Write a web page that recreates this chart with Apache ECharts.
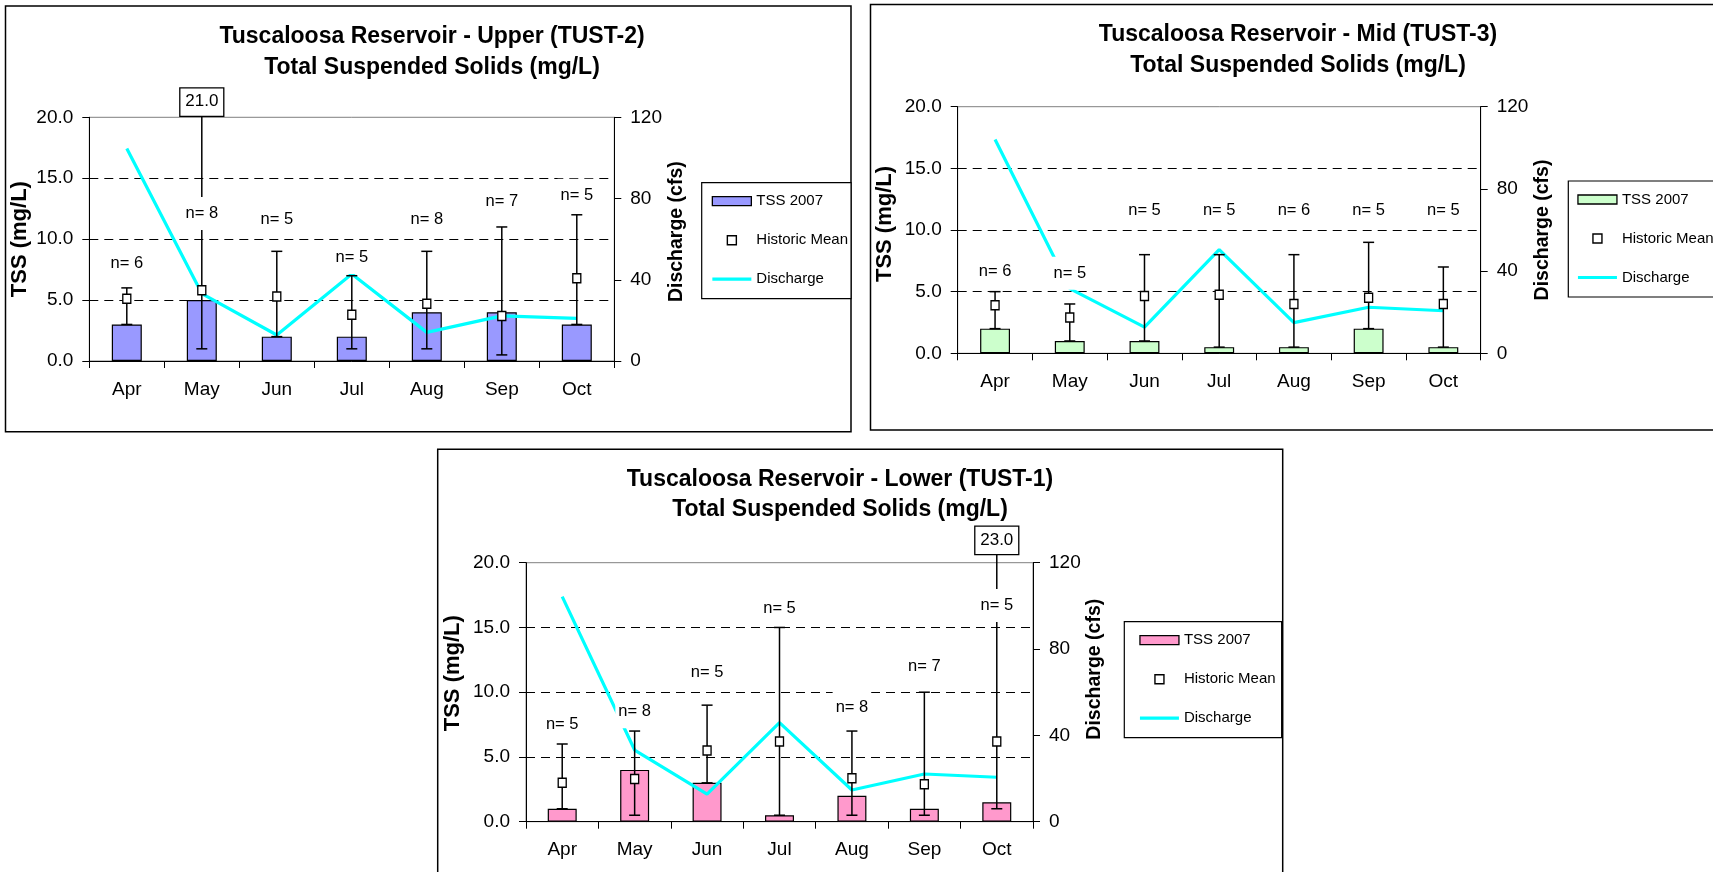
<!DOCTYPE html>
<html>
<head>
<meta charset="utf-8">
<script src="https://cdn.jsdelivr.net/npm/echarts@6/dist/echarts.min.js"></script>
<style>
html,body{margin:0;padding:0;background:#fff;}
#chart{width:1713px;height:872px;}
</style>
</head>
<body>
<div id="chart"></div>
<script>
// ---------- DATA ----------
const categories = ['Apr', 'May', 'Jun', 'Jul', 'Aug', 'Sep', 'Oct'];

const tssTickValues = [0, 5, 10, 15, 20];
const tssTickLabels = ['0.0', '5.0', '10.0', '15.0', '20.0'];
const dischargeTickValues = [0, 40, 80, 120];
const dischargeTickLabels = ['0', '40', '80', '120'];

// Upper (TUST-2)
const upperTitle = ['Tuscaloosa Reservoir - Upper (TUST-2)', 'Total Suspended Solids (mg/L)'];
const upperTss2007 = [3.0, 5.0, 2.0, 2.0, 4.0, 4.0, 3.0];
const upperHistMean = [5.1, 5.8, 5.3, 3.8, 4.7, 3.7, 6.8];
const upperHistMin = [3.0, 1.0, 2.0, 1.0, 1.0, 0.5, 3.0];
const upperHistMax = [6.0, 21.0, 9.0, 7.0, 9.0, 11.0, 12.0];
const upperN = [6, 8, 5, 5, 8, 7, 5];
const upperNLabelAt = [8.0, 12.1, 11.6, 8.5, 11.6, 13.1, 13.6];
const upperDischarge = [104.6, 33.2, 12.8, 42.8, 14.1, 22.2, 21.0];

// Mid (TUST-3)
const midTitle = ['Tuscaloosa Reservoir - Mid (TUST-3)', 'Total Suspended Solids (mg/L)'];
const midTss2007 = [2.0, 1.0, 1.0, 0.5, 0.5, 2.0, 0.5];
const midHistMean = [3.9, 2.9, 4.65, 4.75, 4.0, 4.5, 4.0];
const midHistMin = [2.0, 1.0, 1.0, 0.5, 0.5, 2.0, 0.5];
const midHistMax = [5.0, 4.0, 8.0, 8.0, 8.0, 9.0, 7.0];
const midN = [6, 5, 5, 5, 6, 5, 5];
const midNLabelAt = [6.6, 6.5, 11.6, 11.6, 11.6, 11.6, 11.6];
const midDischarge = [104.0, 31.5, 12.7, 50.5, 14.9, 22.4, 20.7];

// Lower (TUST-1)
const lowerTitle = ['Tuscaloosa Reservoir - Lower (TUST-1)', 'Total Suspended Solids (mg/L)'];
const lowerTss2007 = [1.0, 4.0, 3.0, 0.5, 2.0, 1.0, 1.5];
const lowerHistMean = [3.0, 3.3, 5.5, 6.2, 3.35, 2.9, 6.2];
const lowerHistMin = [1.0, 0.5, 3.0, 0.5, 0.5, 0.5, 1.0];
const lowerHistMax = [6.0, 7.0, 9.0, 15.0, 7.0, 10.0, 23.0];
const lowerN = [5, 8, 5, 5, 8, 7, 5];
const lowerNLabelAt = [7.5, 8.5, 11.5, 16.5, 8.8, 12.0, 16.7];
const lowerDischarge = [104.3, 33.2, 12.8, 45.9, 14.7, 22.1, 20.6];

// ---------- ASSEMBLY ----------
const panels = [
  {title: upperTitle, tss: upperTss2007, mean: upperHistMean, lo: upperHistMin, hi: upperHistMax, n: upperN, nAt: upperNLabelAt, q: upperDischarge, color: '#9999FF'},
  {title: midTitle, tss: midTss2007, mean: midHistMean, lo: midHistMin, hi: midHistMax, n: midN, nAt: midNLabelAt, q: midDischarge, color: '#CCFFCC'},
  {title: lowerTitle, tss: lowerTss2007, mean: lowerHistMean, lo: lowerHistMin, hi: lowerHistMax, n: lowerN, nAt: lowerNLabelAt, q: lowerDischarge, color: '#FF99CC'}
];

const layout = [
  {grid: {left: 89.3, top: 117.3, width: 525, height: 243.7}, frame: [5.5, 6, 845.5, 425.7], titleX: 432, titleY: [36.7, 67.7],
   legend: {left: 701.7, top: 182.7, padding: [11, 3, 12, 10]}, leftGap: 58, rightGap: 52, leftShift: 0, rightShift: 15, boxGap: 1},
  {grid: {left: 957.7, top: 106.7, width: 523, height: 246.6}, frame: [870.5, 4.5, 900, 425.5], titleX: 1298, titleY: [35, 65.7],
   legend: {left: 1568.3, top: 181, padding: [11, 8, 12, 9]}, leftGap: 62, rightGap: 52, leftShift: 12, rightShift: 0, boxGap: 1},
  {grid: {left: 526, top: 562.7, width: 507, height: 259}, frame: [437.7, 449.3, 845, 500], titleX: 840, titleY: [480, 510],
   legend: {left: 1124.3, top: 621.7, padding: [11, 6, 12, 15]}, leftGap: 62, rightGap: 52, leftShift: 38, rightShift: 46, boxGap: 8}
];

const FONT = '"Liberation Sans", Arial, Helvetica, sans-serif';

function makeRangeRenderer(boxGap) {
  return function (params, api) {
    const x = api.value(0), lo = api.value(1), hi = api.value(2);
    const top = params.coordSys.y;
    const pHi = api.coord([x, hi]);
    const pLo = api.coord([x, lo]);
    const clipped = pHi[1] < top;
    const boxBottom = top - boxGap;
    const yHi = clipped ? boxBottom : pHi[1];
    const cw = 5.5;
    const st = {stroke: '#000', lineWidth: 1.5, fill: null};
    const children = [
      {type: 'line', shape: {x1: pHi[0], y1: yHi, x2: pHi[0], y2: pLo[1]}, style: st},
      {type: 'line', shape: {x1: pLo[0] - cw, y1: pLo[1], x2: pLo[0] + cw, y2: pLo[1]}, style: st}
    ];
    if (!clipped) {
      children.push({type: 'line', shape: {x1: pHi[0] - cw, y1: yHi, x2: pHi[0] + cw, y2: yHi}, style: st});
    } else {
      children.push({type: 'rect', shape: {x: pHi[0] - 22, y: boxBottom - 28.5, width: 44, height: 28.5},
        style: {fill: '#fff', stroke: '#000', lineWidth: 1.3}});
      children.push({type: 'text', x: pHi[0], y: boxBottom - 14.5,
        style: {text: hi.toFixed(1), fill: '#000', font: '17px ' + FONT, align: 'center', verticalAlign: 'middle'}});
    }
    return {type: 'group', children};
  };
}

function renderCount(params, api) {
  const p = api.coord([api.value(0), api.value(1)]);
  return {type: 'text', x: p[0], y: p[1],
    style: {text: 'n= ' + api.value(2), fill: '#000', font: '16.5px ' + FONT, align: 'center', verticalAlign: 'middle',
      backgroundColor: '#fff', padding: [8, 3]}};
}

const grids = [], xAxes = [], yAxes = [], series = [], legends = [], graphics = [];

panels.forEach((p, k) => {
  const L = layout[k];
  grids.push(Object.assign({show: true, borderColor: '#808080', borderWidth: 1, backgroundColor: 'transparent'}, L.grid));
  xAxes.push({
    type: 'category', gridIndex: k, data: categories, boundaryGap: true,
    axisLine: {lineStyle: {color: '#000', width: 1}},
    axisTick: {show: true, length: 7, lineStyle: {color: '#000'}},
    axisLabel: {color: '#000', fontSize: 19, fontFamily: FONT, margin: 19},
    splitLine: {show: false}
  });
  yAxes.push({
    type: 'value', gridIndex: k, position: 'left',
    min: tssTickValues[0], max: tssTickValues[tssTickValues.length - 1], interval: tssTickValues[1] - tssTickValues[0],
    name: 'TSS (mg/L)', nameLocation: 'middle', nameGap: L.leftGap,
    nameTextStyle: {color: '#000', fontSize: 22, fontWeight: 'bold', fontFamily: FONT, padding: [0, 0, 0, L.leftShift]},
    axisLine: {show: true, lineStyle: {color: '#000', width: 1}},
    axisTick: {show: true, length: 7, lineStyle: {color: '#000'}},
    axisLabel: {color: '#000', fontSize: 19, fontFamily: FONT, margin: 16,
      formatter: v => { const i = tssTickValues.indexOf(v); return i >= 0 ? tssTickLabels[i] : ''; }},
    splitLine: {show: true, showMinLine: false, showMaxLine: false, lineStyle: {color: '#000', width: 1, type: [9, 6]}}
  });
  yAxes.push({
    type: 'value', gridIndex: k, position: 'right',
    min: dischargeTickValues[0], max: dischargeTickValues[dischargeTickValues.length - 1],
    interval: dischargeTickValues[1] - dischargeTickValues[0],
    name: 'Discharge (cfs)', nameLocation: 'middle', nameGap: L.rightGap,
    nameTextStyle: {color: '#000', fontSize: 19.5, fontWeight: 'bold', fontFamily: FONT, padding: [0, 0, 0, L.rightShift]},
    axisLine: {show: true, lineStyle: {color: '#000', width: 1}},
    axisTick: {show: true, length: 7, lineStyle: {color: '#000'}},
    axisLabel: {color: '#000', fontSize: 19, fontFamily: FONT, margin: 16,
      formatter: v => { const i = dischargeTickValues.indexOf(v); return i >= 0 ? dischargeTickLabels[i] : ''; }},
    splitLine: {show: false}
  });

  series.push({
    name: 'TSS 2007', type: 'bar', xAxisIndex: k, yAxisIndex: 2 * k, barWidth: '40%', z: 2,
    data: p.tss, itemStyle: {color: p.color, borderColor: '#000', borderWidth: 1.2}
  });
  series.push({
    name: 'Discharge', type: 'line', xAxisIndex: k, yAxisIndex: 2 * k + 1, z: 3,
    data: p.q, symbol: 'none', lineStyle: {color: '#00FFFF', width: 3.2}, itemStyle: {color: '#00FFFF'}
  });
  series.push({
    name: 'Range', type: 'custom', xAxisIndex: k, yAxisIndex: 2 * k, z: 4, silent: true,
    renderItem: makeRangeRenderer(L.boxGap), encode: {x: 0, y: [1, 2]},
    data: categories.map((c, i) => [i, p.lo[i], p.hi[i]])
  });
  series.push({
    name: 'Historic Mean', type: 'scatter', xAxisIndex: k, yAxisIndex: 2 * k, z: 5,
    symbol: 'rect', symbolSize: [8, 9],
    itemStyle: {color: '#fff', borderColor: '#000', borderWidth: 1.4, opacity: 1},
    data: categories.map((c, i) => [i, p.mean[i]])
  });
  series.push({
    name: 'Count', type: 'custom', xAxisIndex: k, yAxisIndex: 2 * k, z: 6, silent: true,
    renderItem: renderCount, encode: {x: 0, y: 1},
    data: categories.map((c, i) => [i, p.nAt[i], p.n[i]])
  });

  legends.push({
    orient: 'vertical', left: L.legend.left, top: L.legend.top, padding: L.legend.padding,
    itemWidth: 39, itemHeight: 9, itemGap: 24, selectedMode: false,
    borderColor: '#000', borderWidth: 1.2, backgroundColor: '#fff',
    textStyle: {color: '#000', fontSize: 15, fontFamily: FONT, lineHeight: 15},
    data: [
      {name: 'TSS 2007', icon: 'rect', itemStyle: {color: p.color, borderColor: '#000', borderWidth: 1.3}},
      {name: 'Historic Mean', icon: 'path://M0,0L10,0L10,10L0,10Z', itemStyle: {color: '#fff', borderColor: '#000', borderWidth: 1.4}},
      {name: 'Discharge', icon: 'path://M0,0L39,0L39,3.2L0,3.2Z', itemStyle: {color: '#00FFFF', borderWidth: 0}}
    ]
  });

  graphics.push({type: 'rect', z: -10, shape: {x: L.frame[0], y: L.frame[1], width: L.frame[2], height: L.frame[3]},
    style: {fill: 'none', stroke: '#000', lineWidth: 1.5}});
  p.title.forEach((t, j) => {
    graphics.push({type: 'text', x: L.titleX, y: L.titleY[j],
      style: {text: t, fill: '#000', font: 'bold 23px ' + FONT, align: 'center', verticalAlign: 'middle'}});
  });
});

const chart = echarts.init(document.getElementById('chart'), null, {renderer: 'canvas'});
chart.setOption({
  animation: false,
  backgroundColor: '#fff',
  textStyle: {fontFamily: FONT},
  grid: grids, xAxis: xAxes, yAxis: yAxes, series: series, legend: legends,
  graphic: {elements: graphics}
});
</script>
</body>
</html>
